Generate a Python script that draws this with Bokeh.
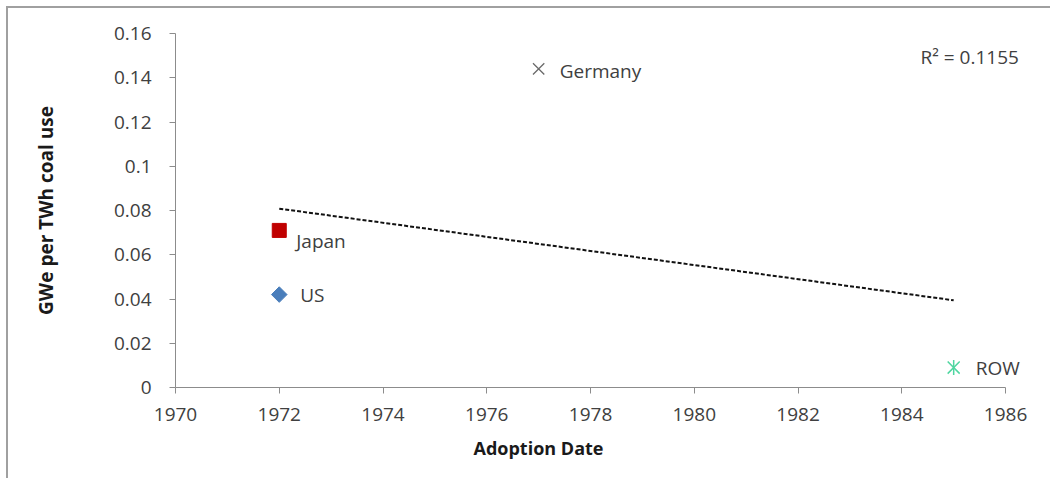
import numpy as np
from bokeh.plotting import figure
from bokeh.models import Label, Range1d, FixedTicker, Title
from bokeh.embed import file_html
from bokeh.resources import INLINE

countries = ["US", "Japan", "Germany", "ROW"]
adoption = [1972, 1972, 1977, 1985]
gwe_per_twh = [0.042, 0.071, 0.144, 0.009]
r2_text = "R\u00b2 = 0.1155"

y_ticks = [0, 0.02, 0.04, 0.06, 0.08, 0.1, 0.12, 0.14, 0.16]
y_tick_labels = ["0", "0.02", "0.04", "0.06", "0.08", "0.1", "0.12", "0.14", "0.16"]
x_ticks = [1970, 1972, 1974, 1976, 1978, 1980, 1982, 1984, 1986]
x_tick_labels = [str(t) for t in x_ticks]

FONT = "Open Sans"
GRAY_TXT = "#404040"
AXIS_COL = "#8c8c8c"

# x range runs slightly past the last tick so the right-hand labels are not clipped;
# the axis line itself is bounded to 1970-1986
p = figure(width=1044, height=472, output_backend="svg", toolbar_location=None,
           x_range=Range1d(1970, 1986.5), y_range=Range1d(0, 0.16),
           min_border_left=167, min_border_right=21, min_border_top=25, min_border_bottom=93)
p.styles = {"margin-left": "6px", "margin-top": "6px",
            "border-left": "2px solid #a0a0a0", "border-top": "2px solid #a0a0a0"}
p.outline_line_color = None
p.xgrid.visible = False
p.ygrid.visible = False

for ax, ticks, labels in ((p.xaxis[0], x_ticks, x_tick_labels), (p.yaxis[0], y_ticks, y_tick_labels)):
    ax.ticker = FixedTicker(ticks=ticks)
    ax.major_label_overrides = {t: l for t, l in zip(ticks, labels)}
    ax.axis_line_color = AXIS_COL
    ax.major_tick_line_color = AXIS_COL
    ax.major_tick_out = 6
    ax.major_tick_in = 0
    ax.minor_tick_line_color = None
    ax.major_label_text_font = FONT
    ax.major_label_text_font_size = "19px"
    ax.major_label_text_color = GRAY_TXT
p.xaxis.bounds = (1970, 1986)
p.yaxis.major_label_standoff = 18
p.xaxis.major_label_standoff = 14

p.yaxis.axis_label = "GWe per TWh coal use"
p.yaxis.axis_label_text_font = FONT
p.yaxis.axis_label_text_font_size = "19px"
p.yaxis.axis_label_text_font_style = "bold"
p.yaxis.axis_label_text_color = "#1a1a1a"
p.yaxis.axis_label_standoff = 52

p.add_layout(Title(text="Adoption Date", align="left", offset=298, text_font=FONT, text_font_size="18px",
                   text_font_style="bold", text_color="#1a1a1a", standoff=20), "below")

# trend line (least squares fit of the data)
x = np.array(adoption, dtype=float)
y = np.array(gwe_per_twh)
slope, intercept = np.polyfit(x, y, 1)
xs = [min(adoption), max(adoption)]
p.line(xs, [slope * v + intercept for v in xs], line_color="#111111", line_width=2, line_dash="4 2")

# markers
p.scatter([adoption[0]], [gwe_per_twh[0]], marker="square", size=11, angle=np.pi / 4,
          fill_color="#4a7ebb", line_color="#4a7ebb")
p.scatter([adoption[1]], [gwe_per_twh[1]], marker="square", size=14, fill_color="#c00000", line_color="#c00000")
p.scatter([adoption[2]], [gwe_per_twh[2]], marker="x", size=16, line_color="#6b6b6b", line_width=1.3)
p.scatter([adoption[3]], [gwe_per_twh[3]], marker="x", size=17, line_color="#4fd6a0", line_width=1.5)
p.scatter([adoption[3]], [gwe_per_twh[3]], marker="dash", size=15, angle=np.pi / 2,
          line_color="#4fd6a0", line_width=1.5)

offsets = {"US": (21, 0), "Japan": (17, -11), "Germany": (21, -2), "ROW": (22, 0)}
for c, xv, yv in zip(countries, adoption, gwe_per_twh):
    dx, dy = offsets[c]
    p.add_layout(Label(x=xv, y=yv, x_offset=dx, y_offset=dy, text=c, text_font=FONT,
                       text_font_size="19px", text_color=GRAY_TXT, text_baseline="middle"))

p.add_layout(Label(x=1984.36, y=0.1492, text=r2_text, text_font=FONT, text_font_size="19px",
                   text_color=GRAY_TXT, text_baseline="middle"))

open("out.html", "w").write(file_html(p, INLINE))
